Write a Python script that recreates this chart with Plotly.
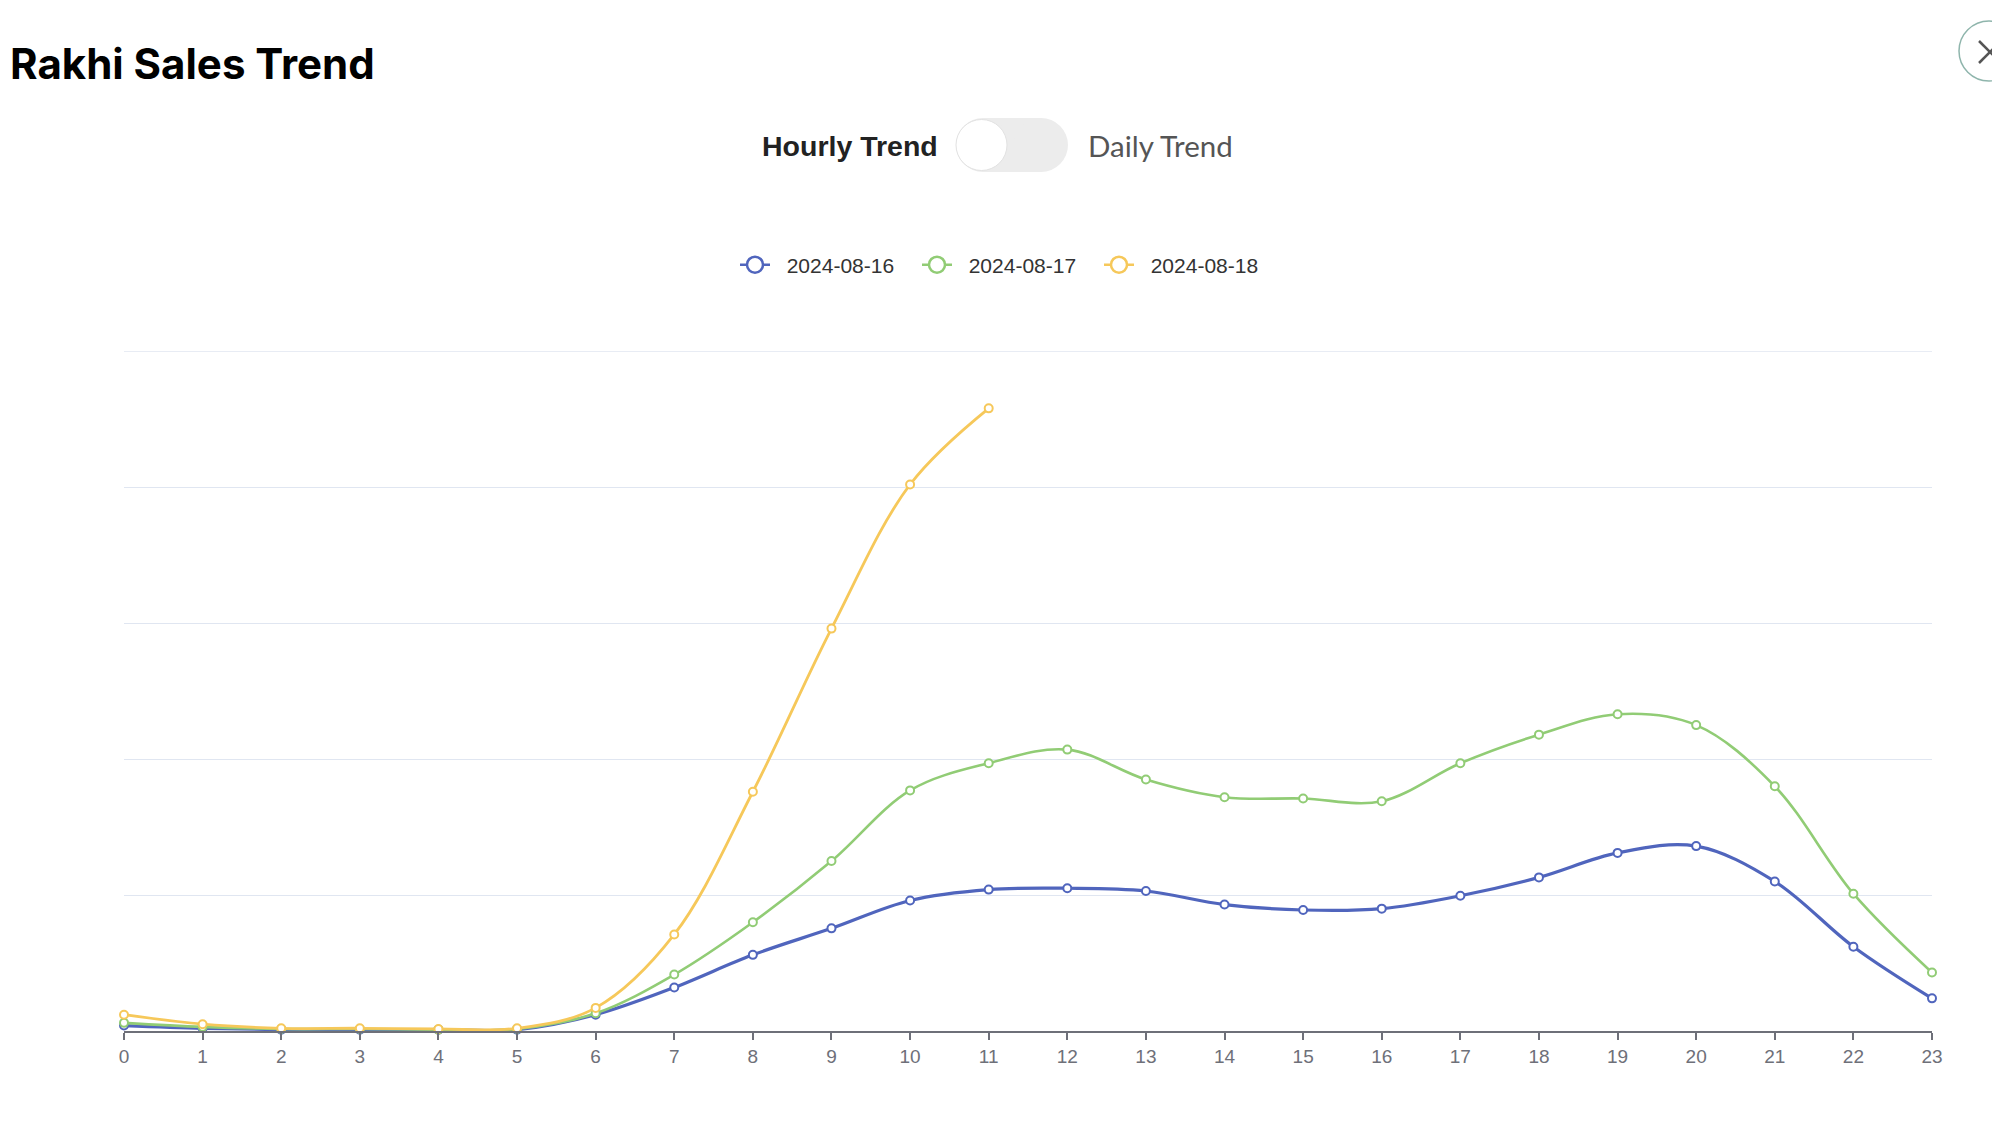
import plotly.graph_objects as go

# ---------------- data ----------------
hours = list(range(24))
hour_labels = [str(h) for h in hours]
series_names = ["2024-08-16", "2024-08-17", "2024-08-18"]
series_colors = ["#5065bd", "#91cc75", "#f6c85a"]
series_widths = [3.2, 2.6, 2.8]
grid_values = [1000, 2000, 3000, 4000, 5000]

sales_0816 = [40, 20, 10, 10, 10, 10, 120, 320, 560, 755, 960, 1040, 1050, 1030,
              930, 890, 900, 995, 1130, 1310, 1360, 1100, 620, 240]
sales_0817 = [60, 30, 15, 15, 10, 15, 130, 415, 800, 1250, 1770, 1970, 2070, 1850,
              1720, 1710, 1690, 1970, 2180, 2330, 2250, 1800, 1010, 430]
sales_0818 = [120, 50, 20, 20, 15, 20, 170, 710, 1760, 2960, 4020, 4580]
series_values = [sales_0816, sales_0817, sales_0818]

# ---------------- layout geometry (page pixels) ----------------
OFF = 8                      # page body margin
W, H = 2000 - OFF, 1125 - OFF
L, R, T, B = 124, 1932, 351, 1031   # plot area in page pixels


def px(x):
    return (x - L) / (R - L)


def py(y):
    return (B - y) / (B - T)


fig = go.Figure()

for name, color, lw, vals in zip(series_names, series_colors, series_widths, series_values):
    fig.add_trace(go.Scatter(
        x=hours[:len(vals)], y=vals, name=name, mode="lines+markers",
        line=dict(color=color, width=lw, shape="spline", smoothing=1),
        marker=dict(size=8, color="white", line=dict(color=color, width=2)),
        cliponaxis=False, showlegend=False,
    ))
    # legend-only entry with a larger symbol
    fig.add_trace(go.Scatter(
        x=[None], y=[None], name="\u00a0\u00a0" + name, mode="lines+markers",
        line=dict(color=color, width=2.5),
        marker=dict(size=16, color="white", line=dict(color=color, width=2.5)),
        showlegend=True,
    ))

shapes = []
# top grid line (at the edge of the value range)
shapes.append(dict(type="line", xref="paper", yref="y", x0=0, x1=1,
                   y0=grid_values[-1], y1=grid_values[-1],
                   line=dict(color="#E0E6F1", width=1.2), layer="below"))
# toggle switch pill
shapes.append(dict(type="rect", xref="paper", yref="paper",
                   x0=px(983), x1=px(1041), y0=py(172), y1=py(118),
                   fillcolor="#ececec", line=dict(width=0), layer="above"))
for cx in (983, 1041):
    shapes.append(dict(type="circle", xref="paper", yref="paper",
                       x0=px(cx - 27), x1=px(cx + 27), y0=py(172), y1=py(118),
                       fillcolor="#ececec", line=dict(width=0), layer="above"))
# knob
shapes.append(dict(type="circle", xref="paper", yref="paper",
                   x0=px(956), x1=px(1007), y0=py(170.5), y1=py(119.5),
                   fillcolor="white", line=dict(color="#e2e2e2", width=1), layer="above"))
# close button
shapes.append(dict(type="circle", xref="paper", yref="paper",
                   x0=px(1959), x1=px(2019), y0=py(81), y1=py(21),
                   fillcolor="rgba(0,0,0,0)", line=dict(color="#8fb5ac", width=1.5), layer="above"))
shapes.append(dict(type="line", xref="paper", yref="paper",
                   x0=px(1979), x1=px(2001), y0=py(41), y1=py(63),
                   line=dict(color="#555555", width=2.5), layer="above"))
shapes.append(dict(type="line", xref="paper", yref="paper",
                   x0=px(1979), x1=px(2001), y0=py(63), y1=py(41),
                   line=dict(color="#555555", width=2.5), layer="above"))

annotations = [
    dict(text="<b>Rakhi Sales Trend</b>", xref="paper", yref="paper",
         x=px(8), y=py(64), xanchor="left", yanchor="middle", showarrow=False,
         font=dict(family="Inter, Liberation Sans, Arial", size=42, color="#000000")),
    dict(text="<b>Hourly Trend</b>", xref="paper", yref="paper",
         x=px(940), y=py(146), xanchor="right", yanchor="middle", showarrow=False,
         font=dict(family="Liberation Sans, Arial", size=28.5, color="#222222")),
    dict(text="Daily Trend", xref="paper", yref="paper",
         x=px(1086), y=py(146), xanchor="left", yanchor="middle", showarrow=False,
         font=dict(family="Lato, Open Sans, Arial", size=29.5, color="#555555")),
]

fig.update_layout(
    width=W, height=H,
    margin=dict(l=L - OFF, r=W - (R - OFF), t=T - OFF, b=H - (B - OFF), autoexpand=False),
    paper_bgcolor="white", plot_bgcolor="white",
    shapes=shapes, annotations=annotations,
    legend=dict(orientation="h", x=px(1008), xanchor="center", y=py(265), yanchor="middle",
                font=dict(family="Liberation Sans, Arial", size=21, color="#333333"),
                entrywidth=137, entrywidthmode="pixels", bgcolor="rgba(0,0,0,0)"),
    xaxis=dict(range=[0, 23], tickmode="array", tickvals=hours, ticktext=hour_labels,
               showgrid=False, zeroline=False, showline=True, linecolor="#6E7079", linewidth=1.5,
               ticks="outside", ticklen=7, tickwidth=1.5, tickcolor="#6E7079",
               tickfont=dict(family="Liberation Sans, Arial", size=19, color="#6E7079")),
    yaxis=dict(range=[0, 5002], tickmode="array", tickvals=grid_values,
               showticklabels=False, showgrid=True,
               gridcolor="#E0E6F1", gridwidth=1.2, zeroline=False, showline=False),
    showlegend=True,
)

fig.write_html("out.html")
